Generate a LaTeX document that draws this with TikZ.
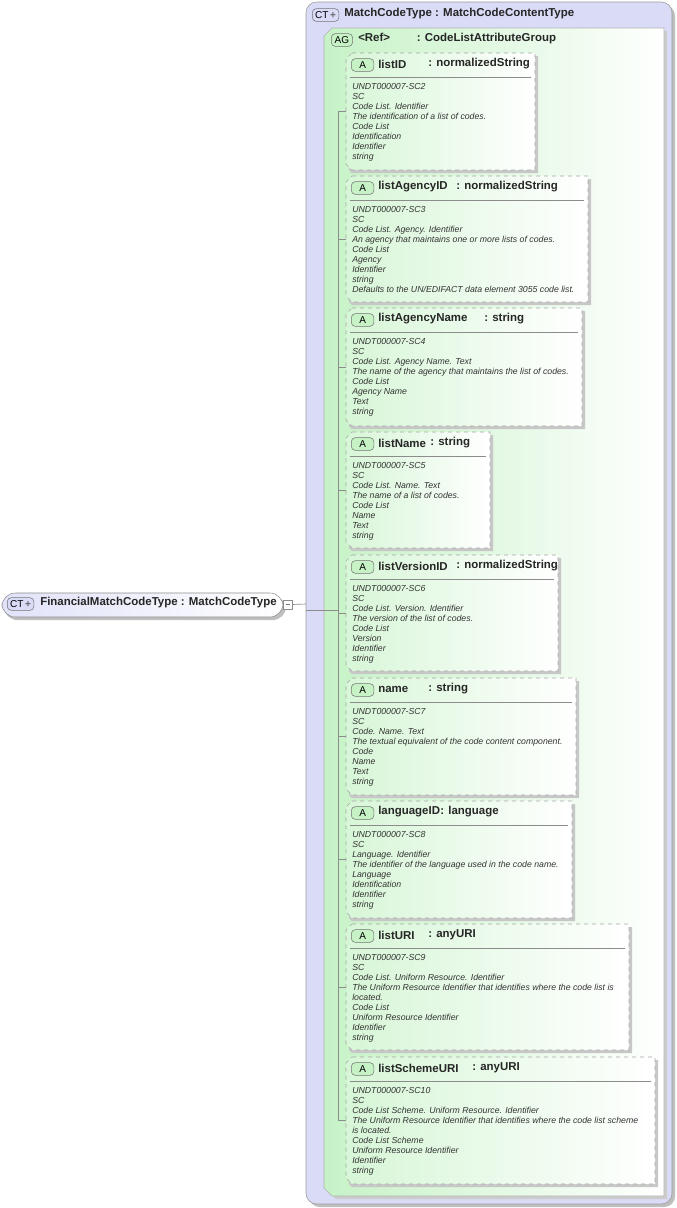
\documentclass[tikz,border=0pt]{standalone}
\usepackage{fontspec}
\setmainfont{Liberation Sans}
\begin{document}
\begin{tikzpicture}[x=0.75pt,y=-0.75pt,
  ttl/.style={font=\fontsize{8.6}{9}\selectfont\bfseries, text=black!85, inner sep=0pt, anchor=west},
  body/.style={font=\fontsize{6.55}{7.5}\selectfont\itshape, text=black!80, inner sep=0pt, anchor=north west, align=left},
  badge/.style={draw=black!55, rounded corners=3pt, font=\fontsize{7.5}{8}\selectfont, inner sep=0pt, minimum height=9.5pt},
  wire/.style={draw=black!45, line width=0.5pt}]
\useasboundingbox (0,0) rectangle (677,1208);
\definecolor{lav}{HTML}{D9DBF7}
\definecolor{grn}{HTML}{C6F2C6}
% outer CT
\fill[black!25,rounded corners=8pt] (309,5) rectangle (675,1207);
\draw[black!40,fill=lav,rounded corners=8pt] (306,2) rectangle (672,1204);
\node[badge,fill=lav,minimum width=20pt,anchor=west] (ctb) at (312,15) {CT\,{\color{black!60}\textbf{+}}};
\node[ttl] (ctt) at (344,14) {MatchCodeType : MatchCodeContentType};
% AG
\fill[black!20] (336,31) -- (667,31) -- (667,1199) -- (336,1199) -- (327,1190) -- (327,40) -- cycle;
\shade[left color=grn,right color=white,draw=black!30] (332,28) -- (664,28) -- (664,1196) -- (332,1196) -- (324,1188) -- (324,36) -- cycle;
\node[badge,fill=grn,minimum width=16pt,anchor=west] (agb) at (331,40) {AG};
\node[ttl] (agt) at (358,39) {<Ref>\hspace{20pt}: CodeListAttributeGroup};
% left node
\fill[black!25,rounded corners=10pt] (4,596) rectangle (286,620);
\shade[left color=lav!80,right color=white,draw=black!45,rounded corners=10pt] (2,593) rectangle (283,617);
\node[badge,fill=lav,minimum width=20pt,anchor=west] (fb) at (7,604) {CT\,{\color{black!60}\textbf{+}}};
\node[ttl] (ft) at (40,603) {FinancialMatchCodeType : MatchCodeType};
\node[draw=black!45,fill=white,minimum size=6.5pt,inner sep=0pt] (minus) at (287.5,604.5) {};
\draw[black!55] (285.5,604.5) -- (289.5,604.5);
\coordinate (j1) at (306,604);
\draw[wire] (minus.east) -- (j1);
\coordinate (j2) at (338,610);
\draw[wire] (306,610) -- (j2);
\draw[wire] (338,111) -- (338,1120);
% attribute macro
\newcommand{\attrbox}[8]{%
  \fill[black!22] (352,#1+3) -- (#3+3,#1+3) -- (#3+3,#2+3) -- (352,#2+3) -- (349,#2) -- (349,#1+6) -- cycle;
  \shade[left color=grn!70,right color=white,draw=black!35,dashed] (352,#1) -- (#3,#1) -- (#3,#2) -- (352,#2) -- (346,#2-6) -- (346,#1+6) -- cycle;
  \node[badge,fill=grn,minimum width=17pt,anchor=west] (#8b) at (351,#1+12) {A};
  \node[ttl] (#8n) at (378,#1+11) {#4};
  \node[ttl] (#8t) at (#5,#1+11) {: #6};
  \draw[black!45] (350,#1+24) -- (#3-4,#1+24);
  \node[body] (#8d) at (352,#1+30) {#7};
  \draw[wire] (338,#1/2+#2/2) -- (346,#1/2+#2/2);
}
\attrbox{53}{170}{535}{listID}{428}{normalizedString}{UNDT000007-SC2\\SC\\Code List. Identifier\\The identification of a list of codes.\\Code List\\Identification\\Identifier\\string}{a1}
\attrbox{176}{302}{588}{listAgencyID}{456}{normalizedString}{UNDT000007-SC3\\SC\\Code List. Agency. Identifier\\An agency that maintains one or more lists of codes.\\Code List\\Agency\\Identifier\\string\\Defaults to the UN/EDIFACT data element 3055 code list.}{a2}
\attrbox{308}{426}{582}{listAgencyName}{484}{string}{UNDT000007-SC4\\SC\\Code List. Agency Name. Text\\The name of the agency that maintains the list of codes.\\Code List\\Agency Name\\Text\\string}{a3}
\attrbox{432}{548}{490}{listName}{430}{string}{UNDT000007-SC5\\SC\\Code List. Name. Text\\The name of a list of codes.\\Code List\\Name\\Text\\string}{a4}
\attrbox{555}{671}{558}{listVersionID}{456}{normalizedString}{UNDT000007-SC6\\SC\\Code List. Version. Identifier\\The version of the list of codes.\\Code List\\Version\\Identifier\\string}{a5}
\attrbox{678}{795}{576}{name}{428}{string}{UNDT000007-SC7\\SC\\Code. Name. Text\\The textual equivalent of the code content component.\\Code\\Name\\Text\\string}{a6}
\attrbox{801}{918}{572}{languageID}{440}{language}{UNDT000007-SC8\\SC\\Language. Identifier\\The identifier of the language used in the code name.\\Language\\Identification\\Identifier\\string}{a7}
\attrbox{924}{1050}{629}{listURI}{428}{anyURI}{UNDT000007-SC9\\SC\\Code List. Uniform Resource. Identifier\\The Uniform Resource Identifier that identifies where the code list is\\located.\\Code List\\Uniform Resource Identifier\\Identifier\\string}{a8}
\attrbox{1057}{1184}{655}{listSchemeURI}{472}{anyURI}{UNDT000007-SC10\\SC\\Code List Scheme. Uniform Resource. Identifier\\The Uniform Resource Identifier that identifies where the code list scheme\\is located.\\Code List Scheme\\Uniform Resource Identifier\\Identifier\\string}{a9}
\end{tikzpicture}
\end{document}
